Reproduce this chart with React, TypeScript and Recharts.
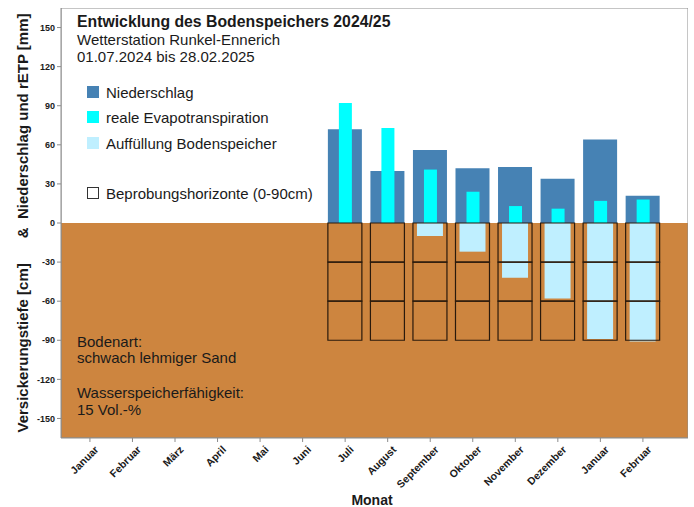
import React from 'react';
import { ComposedChart, Bar, XAxis, YAxis, ReferenceArea } from 'recharts';

const FONT = '"Liberation Sans", Arial, sans-serif';

const COLORS = {
  niederschlag: '#4682B4',
  etp: '#00FFFF',
  auffuellung: '#BFEFFF',
  boden: '#CD853F',
  rahmen: '#8c8c8c',
  text: '#1a1a1a',
};

// Monate auf der x-Achse (Jan 2024 .. Feb 2025)
const monthLabels = [
  'Januar', 'Februar', 'März', 'April', 'Mai', 'Juni',
  'Juli', 'August', 'September', 'Oktober', 'November', 'Dezember',
  'Januar', 'Februar',
];
const firstMeasured = 6; // Juli

// Messwerte Juli .. Februar
const niederschlag = [72, 40, 56, 42, 43, 34, 64, 21];
const evapotranspiration = [92, 73, 41, 24, 13, 11, 17, 18];
const auffuellung = [0, 0, 10, 22, 42, 58, 89, 91]; // cm
const horizonte = [30, 30, 30]; // 0-90cm in 3 Schichten

const yTicks = [-150, -120, -90, -60, -30, 0, 30, 60, 90, 120, 150];
const xTicks = monthLabels.map((_, i) => i);
const X_DOMAIN: [number, number] = [-0.68, 14.06];
const Y_DOMAIN: [number, number] = [-165, 165];

const data = monthLabels.map((month, i) => {
  const k = i - firstMeasured;
  const on = k >= 0;
  return {
    x: i,
    month,
    n: on ? niederschlag[k] : null,
    e: on ? evapotranspiration[k] : null,
    a: on && auffuellung[k] ? -auffuellung[k] : null,
    h1: on ? -horizonte[0] : null,
    h2: on ? -horizonte[1] : null,
    h3: on ? -horizonte[2] : null,
  };
});

const legendItems = [
  { label: 'Niederschlag', color: COLORS.niederschlag, top: 92 },
  { label: 'reale Evapotranspiration', color: COLORS.etp, top: 117 },
  { label: 'Auffüllung Bodenspeicher', color: COLORS.auffuellung, top: 143 },
];

const text = (left: number, top: number, size: number, bold = false): React.CSSProperties => ({
  position: 'absolute',
  left,
  top,
  fontFamily: FONT,
  fontSize: size,
  fontWeight: bold ? 'bold' : 'normal',
  color: COLORS.text,
  lineHeight: 1,
  whiteSpace: 'pre',
  transform: 'translateY(-50%)',
});

const MonthTick = (props: any) => {
  const { x, y, payload } = props;
  return (
    <g transform={`translate(${x + 4},${y + 1})`}>
      <text
        x={0}
        y={0}
        dy="0.71em"
        textAnchor="end"
        transform="rotate(-45)"
        fill={COLORS.text}
        fontSize={10.5}
        fontWeight="bold"
        fontFamily={FONT}
      >
        {monthLabels[payload.value]}
      </text>
    </g>
  );
};

const hiddenAxis = { type: 'number' as const, dataKey: 'x', domain: X_DOMAIN, allowDataOverflow: true, hide: true, height: 0 };
const boxProps = { stackId: 'h', barSize: 34, fill: 'none', stroke: '#2a1a0c', strokeWidth: 1.2 };

const App: React.FC = () => (
  <div style={{ position: 'absolute', left: 0, top: 0, width: 694, height: 507, background: '#fff' }}>
    <ComposedChart
      width={694}
      height={507}
      data={data}
      margin={{ top: 8, right: 6, bottom: 0, left: 0 }}
    >
      <XAxis
        xAxisId="main"
        type="number"
        dataKey="x"
        domain={X_DOMAIN}
        allowDataOverflow
        ticks={xTicks}
        interval={0}
        height={69}
        tick={<MonthTick />}
        tickSize={4}
        tickLine={{ stroke: COLORS.rahmen }}
        axisLine={{ stroke: COLORS.rahmen }}
      />
      <XAxis xAxisId="n" {...hiddenAxis} />
      <XAxis xAxisId="e" {...hiddenAxis} />
      <XAxis xAxisId="a" {...hiddenAxis} />
      <XAxis xAxisId="h" {...hiddenAxis} />
      <YAxis
        type="number"
        domain={Y_DOMAIN}
        allowDataOverflow
        ticks={yTicks}
        interval={0}
        width={61}
        tick={{ fill: COLORS.text, fontSize: 9, fontWeight: 'bold', fontFamily: FONT }}
        tickSize={4}
        tickLine={{ stroke: COLORS.rahmen }}
        axisLine={{ stroke: COLORS.rahmen }}
      />
      <ReferenceArea
        xAxisId="main"
        x1={X_DOMAIN[0]}
        x2={X_DOMAIN[1]}
        y1={Y_DOMAIN[0]}
        y2={0}
        fill={COLORS.boden}
        fillOpacity={1}
        stroke="none"
        ifOverflow="hidden"
      />
      <Bar xAxisId="n" dataKey="n" barSize={34} fill={COLORS.niederschlag} isAnimationActive={false} />
      <Bar xAxisId="e" dataKey="e" barSize={13} fill={COLORS.etp} isAnimationActive={false} />
      <Bar xAxisId="a" dataKey="a" barSize={26} fill={COLORS.auffuellung} isAnimationActive={false} />
      <Bar xAxisId="h" dataKey="h1" {...boxProps} isAnimationActive={false} />
      <Bar xAxisId="h" dataKey="h2" {...boxProps} isAnimationActive={false} />
      <Bar xAxisId="h" dataKey="h3" {...boxProps} isAnimationActive={false} />
      <ReferenceArea
        xAxisId="main"
        x1={X_DOMAIN[0]}
        x2={X_DOMAIN[1]}
        y1={Y_DOMAIN[0]}
        y2={Y_DOMAIN[1]}
        fill="none"
        stroke={COLORS.rahmen}
        ifOverflow="hidden"
      />
    </ComposedChart>

    {/* Titel */}
    <div style={text(77, 22, 15.8, true)}>Entwicklung des Bodenspeichers 2024/25</div>
    <div style={text(77, 39, 15)}>Wetterstation Runkel-Ennerich</div>
    <div style={text(77, 56, 15)}>01.07.2024 bis 28.02.2025</div>

    {/* Legende */}
    {legendItems.map((item) => (
      <React.Fragment key={item.label}>
        <div style={{ position: 'absolute', left: 87, top: item.top - 6, width: 12, height: 12, background: item.color }} />
        <div style={text(106, item.top, 15)}>{item.label}</div>
      </React.Fragment>
    ))}
    <div style={{ position: 'absolute', left: 87, top: 187, width: 10, height: 10, border: '1px solid #333', background: '#fff' }} />
    <div style={text(106, 193, 15)}>Beprobungshorizonte (0-90cm)</div>

    {/* Bodeninfo */}
    <div style={text(77, 341, 15)}>Bodenart:</div>
    <div style={text(77, 357, 15)}>schwach lehmiger Sand</div>
    <div style={text(77, 392, 15)}>Wasserspeicherfähigkeit:</div>
    <div style={text(77, 409, 15)}>15 Vol.-%</div>

    {/* Achsentitel */}
    <div
      style={{
        position: 'absolute',
        left: 22,
        top: 223,
        transform: 'translate(-50%, -50%) rotate(-90deg)',
        fontFamily: FONT,
        fontSize: 15,
        fontWeight: 'bold',
        color: COLORS.text,
        whiteSpace: 'pre',
        lineHeight: 1,
      }}
    >
      {'Versickerungstiefe [cm]      &  Niederschlag und rETP [mm]'}
    </div>
    <div
      style={{
        position: 'absolute',
        left: 372,
        top: 500,
        transform: 'translate(-50%, -50%)',
        fontFamily: FONT,
        fontSize: 14,
        fontWeight: 'bold',
        color: COLORS.text,
        lineHeight: 1,
      }}
    >
      Monat
    </div>
  </div>
);

export default App;
